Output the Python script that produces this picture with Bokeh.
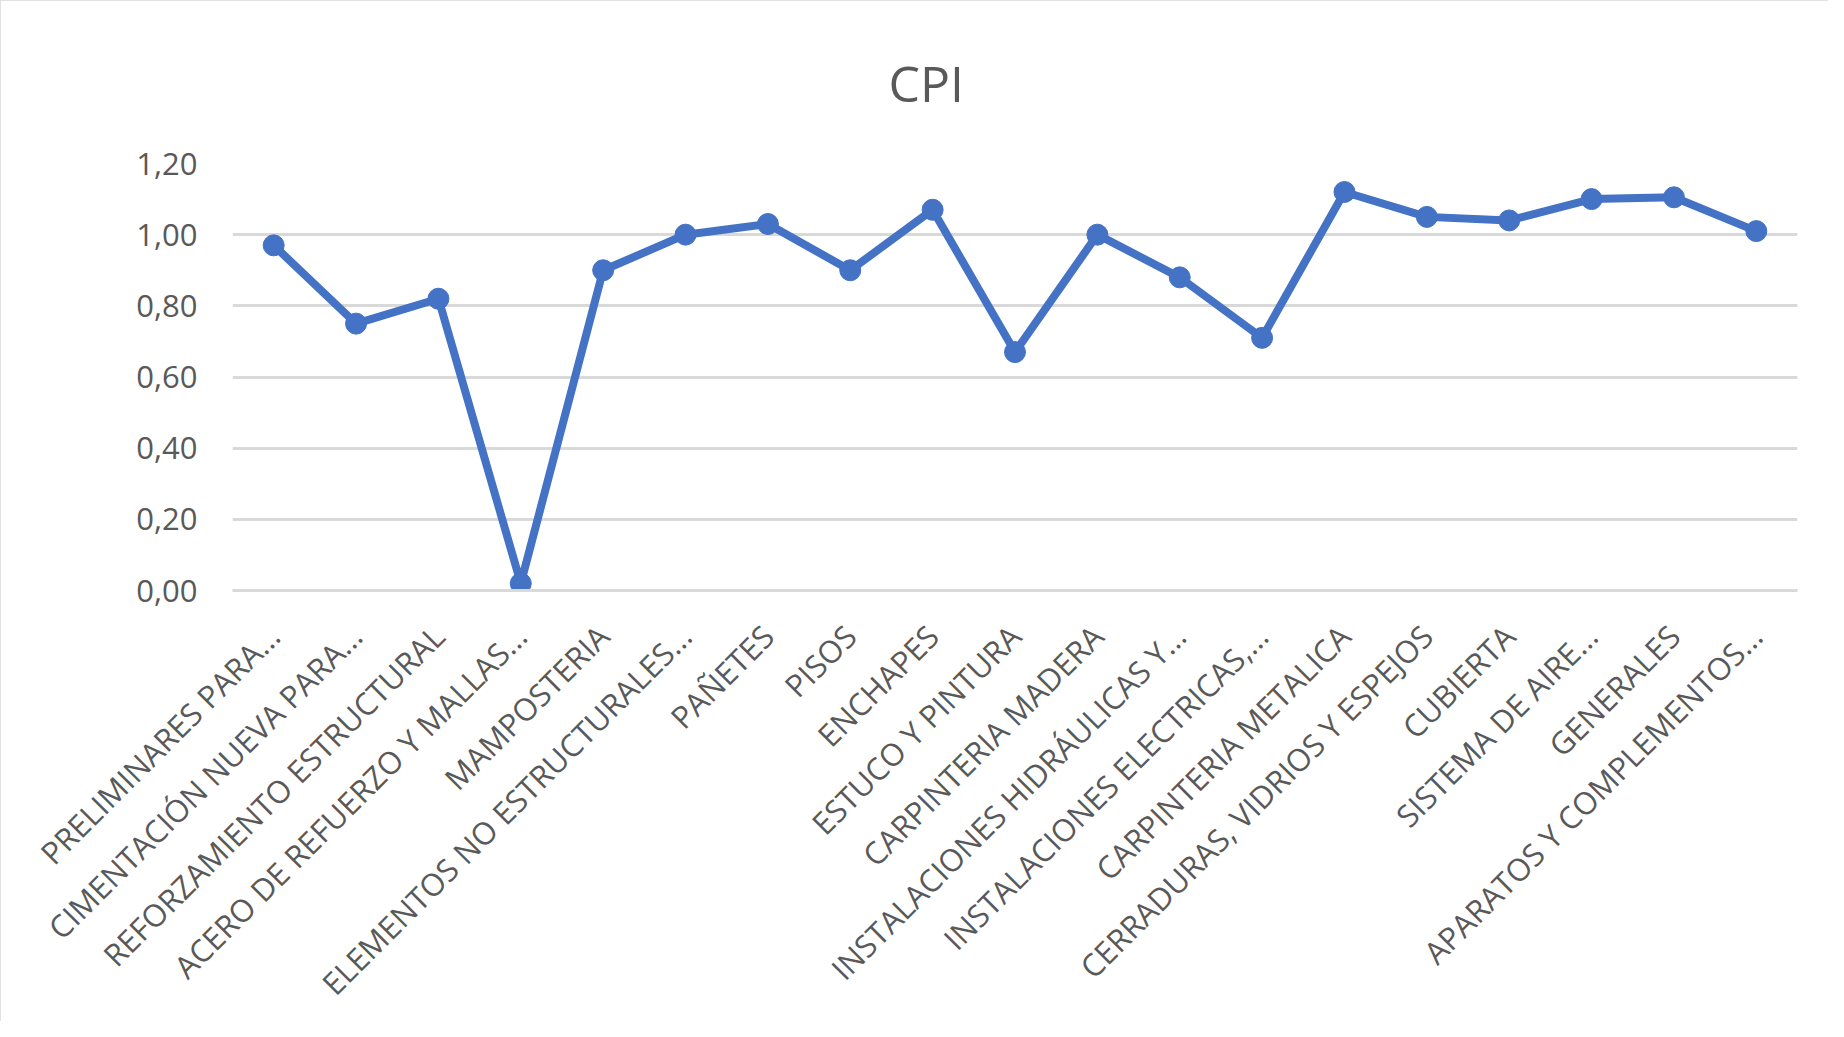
from bokeh.plotting import figure
from bokeh.models import FactorRange, Range1d, FixedTicker, CustomJSTickFormatter, ColumnDataSource
from bokeh.embed import file_html
from bokeh.resources import INLINE
import math

categories = [
    "PRELIMINARES PARA...",
    "CIMENTACIÓN NUEVA PARA...",
    "REFORZAMIENTO ESTRUCTURAL",
    "ACERO DE REFUERZO Y MALLAS...",
    "MAMPOSTERIA",
    "ELEMENTOS NO ESTRUCTURALES...",
    "PAÑETES",
    "PISOS",
    "ENCHAPES",
    "ESTUCO Y PINTURA",
    "CARPINTERIA MADERA",
    "INSTALACIONES HIDRÁULICAS Y...",
    "INSTALACIONES ELECTRICAS,...",
    "CARPINTERIA METALICA",
    "CERRADURAS, VIDRIOS Y ESPEJOS",
    "CUBIERTA",
    "SISTEMA DE AIRE...",
    "GENERALES",
    "APARATOS Y COMPLEMENTOS...",
]
cpi_values = [0.97, 0.75, 0.82, 0.02, 0.90, 1.00, 1.03, 0.90, 1.07, 0.67,
              1.00, 0.88, 0.71, 1.12, 1.05, 1.04, 1.10, 1.105, 1.01]
y_ticks = [0.0, 0.2, 0.4, 0.6, 0.8, 1.0, 1.2]

FONT = "Open Sans"
TEXT = "#595959"
GRID = "#d9d9d9"
BLUE = "#4472C4"

source = ColumnDataSource(data=dict(cat=categories, cpi=cpi_values))

p = figure(
    width=1828, height=1021,
    x_range=FactorRange(factors=categories),
    y_range=Range1d(0, 1.2),
    output_backend="svg", toolbar_location=None,
    min_border_left=232, min_border_right=31,
    min_border_top=163, min_border_bottom=430,
    title="CPI",
)
p.styles = {"outline": "2px solid #d9d9d9", "outline-offset": "-2px"}

p.title.text_font = FONT
p.title.text_font_size = "50px"
p.title.text_font_style = "normal"
p.title.text_color = TEXT
p.title.align = "left"
p.title.offset = 656
p.title.standoff = 93

p.outline_line_color = None
p.xgrid.grid_line_color = None
p.ygrid.grid_line_color = GRID
p.ygrid.grid_line_width = 3

p.yaxis.ticker = FixedTicker(ticks=y_ticks)
p.yaxis.formatter = CustomJSTickFormatter(code="return tick.toFixed(2).replace('.', ',');")
p.yaxis.axis_line_color = None
p.yaxis.major_tick_line_color = None
p.yaxis.minor_tick_line_color = None
p.yaxis.major_tick_out = 0
p.yaxis.major_label_standoff = 35
p.yaxis.major_label_text_font = FONT
p.yaxis.major_label_text_font_size = "31px"
p.yaxis.major_label_text_color = TEXT

p.xaxis.axis_line_color = GRID
p.xaxis.axis_line_width = 3
p.xaxis.major_tick_line_color = None
p.xaxis.major_tick_out = 0
p.xaxis.major_label_orientation = math.pi / 4
p.xaxis.major_label_standoff = 40
p.xaxis.major_label_text_font = FONT
p.xaxis.major_label_text_font_size = "31px"
p.xaxis.major_label_text_color = TEXT

p.line(x="cat", y="cpi", source=source, line_color=BLUE, line_width=8, line_join="round")
p.scatter(x="cat", y="cpi", source=source, size=21, fill_color=BLUE, line_color=BLUE)

open("out.html", "w").write(file_html(p, INLINE))
